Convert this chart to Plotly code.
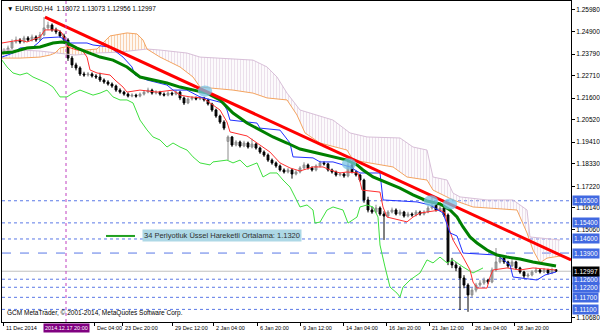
import plotly.graph_objects as go

# ---------------- price data (EURUSD H4) ----------------
opens = [1.2392, 1.2399, 1.2409, 1.2439, 1.2449, 1.2439, 1.2459, 1.2449, 1.2464, 1.2449,
         1.2474, 1.2509, 1.2523, 1.2499, 1.2489, 1.2469, 1.2449, 1.2359, 1.2325, 1.2310,
         1.2280, 1.2275, 1.2280, 1.2270, 1.2265, 1.2250, 1.2240, 1.2230, 1.2220, 1.2200,
         1.2190, 1.2180, 1.2170, 1.2175, 1.2170, 1.2180, 1.2190, 1.2200, 1.2185, 1.2190,
         1.2180, 1.2175, 1.2185, 1.2180, 1.2190, 1.2161, 1.2136, 1.2156, 1.2161, 1.2156,
         1.2161, 1.2151, 1.2131, 1.2101, 1.2071, 1.2041, 1.1945, 1.1967, 1.1927, 1.1942,
         1.1922, 1.1937, 1.1917, 1.1932, 1.1912, 1.1892, 1.1877, 1.1852, 1.1838, 1.1823,
         1.1803, 1.1793, 1.1803, 1.1783, 1.1793, 1.1813, 1.1828, 1.1813, 1.1803, 1.1823,
         1.1838, 1.1833, 1.1803, 1.1793, 1.1778, 1.1783, 1.1773, 1.1828, 1.1793, 1.1778,
         1.1753, 1.1654, 1.1604, 1.1594, 1.1614, 1.1584, 1.1574, 1.1594, 1.1604, 1.1584,
         1.1594, 1.1574, 1.1584, 1.1579, 1.1594, 1.1584, 1.1594, 1.1614, 1.1629, 1.1604,
         1.1614, 1.1579, 1.1346, 1.1331, 1.1316, 1.1266, 1.1231, 1.1182, 1.1206, 1.1231,
         1.1241, 1.1256, 1.1246, 1.1306, 1.1346, 1.1365, 1.1346, 1.1326, 1.1346, 1.1316,
         1.1296, 1.1276, 1.1281, 1.1296, 1.1306, 1.1296, 1.1306, 1.1291, 1.13072]
highs = [1.2408, 1.2421, 1.2452, 1.2466, 1.2458, 1.2470, 1.2468, 1.2476, 1.2472, 1.2489,
         1.2563, 1.2540, 1.2531, 1.2510, 1.2497, 1.2480, 1.2458, 1.2370, 1.2336, 1.2318,
         1.2291, 1.2290, 1.2288, 1.2279, 1.2286, 1.2258, 1.2249, 1.2238, 1.2227, 1.2209,
         1.2197, 1.2188, 1.2184, 1.2182, 1.2188, 1.2199, 1.2212, 1.2207, 1.2199, 1.2196,
         1.2188, 1.2194, 1.2192, 1.2199, 1.2196, 1.2168, 1.2164, 1.2170, 1.2168, 1.2169,
         1.2166, 1.2157, 1.2137, 1.2108, 1.2078, 1.2050, 1.1975, 1.1972, 1.1951, 1.1949,
         1.1948, 1.1944, 1.1958, 1.1939, 1.1919, 1.1900, 1.1885, 1.1860, 1.1845, 1.1830,
         1.1811, 1.1812, 1.1810, 1.1802, 1.1822, 1.1841, 1.1835, 1.1821, 1.1831, 1.1849,
         1.1846, 1.1839, 1.1810, 1.1800, 1.1792, 1.1790, 1.1852, 1.1835, 1.1800, 1.1784,
         1.1760, 1.1670, 1.1620, 1.1630, 1.1622, 1.1598, 1.1603, 1.1616, 1.1612, 1.1606,
         1.1600, 1.1595, 1.1592, 1.1604, 1.1601, 1.1603, 1.1625, 1.1668, 1.1636, 1.1625,
         1.1621, 1.1587, 1.1366, 1.1345, 1.1325, 1.1280, 1.1240, 1.1218, 1.1242, 1.1255,
         1.1268, 1.1262, 1.1318, 1.1415, 1.1380, 1.1372, 1.1352, 1.1360, 1.1352, 1.1322,
         1.1302, 1.1292, 1.1305, 1.1318, 1.1312, 1.1316, 1.1312, 1.1318, 1.13073]
lows = [1.2385, 1.2392, 1.2401, 1.2431, 1.2430, 1.2432, 1.2440, 1.2441, 1.2440, 1.2443,
        1.2468, 1.2498, 1.2490, 1.2478, 1.2460, 1.2438, 1.2345, 1.2310, 1.2298, 1.2270,
        1.2266, 1.2267, 1.2262, 1.2255, 1.2240, 1.2231, 1.2222, 1.2211, 1.2191, 1.2182,
        1.2172, 1.2163, 1.2164, 1.2162, 1.2164, 1.2173, 1.2184, 1.2177, 1.2178, 1.2172,
        1.2168, 1.2169, 1.2171, 1.2174, 1.2150, 1.2126, 1.2130, 1.2148, 1.2149, 1.2150,
        1.2143, 1.2123, 1.2092, 1.2062, 1.2032, 1.2001, 1.1852, 1.1918, 1.1920, 1.1914,
        1.1916, 1.1909, 1.1910, 1.1904, 1.1883, 1.1868, 1.1843, 1.1829, 1.1814, 1.1795,
        1.1785, 1.1786, 1.1760, 1.1776, 1.1786, 1.1806, 1.1805, 1.1795, 1.1796, 1.1816,
        1.1825, 1.1795, 1.1785, 1.1770, 1.1771, 1.1764, 1.1766, 1.1786, 1.1770, 1.1745,
        1.1640, 1.1592, 1.1585, 1.1588, 1.1575, 1.1455, 1.1566, 1.1587, 1.1577, 1.1576,
        1.1566, 1.1567, 1.1570, 1.1572, 1.1576, 1.1577, 1.1588, 1.1606, 1.1596, 1.1597,
        1.1570, 1.1330, 1.1315, 1.1300, 1.1107, 1.1215, 1.1098, 1.1170, 1.1195, 1.1222,
        1.1232, 1.1236, 1.1240, 1.1298, 1.1338, 1.1336, 1.1316, 1.1320, 1.1307, 1.1287,
        1.1266, 1.1268, 1.1274, 1.1290, 1.1288, 1.1290, 1.1283, 1.1285, 1.12956]
closes = [1.2399, 1.2409, 1.2439, 1.2449, 1.2439, 1.2459, 1.2449, 1.2464, 1.2449, 1.2474,
          1.2509, 1.2523, 1.2499, 1.2489, 1.2469, 1.2449, 1.2359, 1.2325, 1.2310, 1.2280,
          1.2275, 1.2280, 1.2270, 1.2265, 1.2250, 1.2240, 1.2230, 1.2220, 1.2200, 1.2190,
          1.2180, 1.2170, 1.2175, 1.2170, 1.2180, 1.2190, 1.2200, 1.2185, 1.2190, 1.2180,
          1.2175, 1.2185, 1.2180, 1.2190, 1.2161, 1.2136, 1.2156, 1.2161, 1.2156, 1.2161,
          1.2151, 1.2131, 1.2101, 1.2071, 1.2041, 1.2011, 1.1967, 1.1927, 1.1942, 1.1922,
          1.1937, 1.1917, 1.1932, 1.1912, 1.1892, 1.1877, 1.1852, 1.1838, 1.1823, 1.1803,
          1.1793, 1.1803, 1.1783, 1.1793, 1.1813, 1.1828, 1.1813, 1.1803, 1.1823, 1.1838,
          1.1833, 1.1803, 1.1793, 1.1778, 1.1783, 1.1773, 1.1828, 1.1793, 1.1778, 1.1753,
          1.1654, 1.1604, 1.1594, 1.1614, 1.1584, 1.1574, 1.1594, 1.1604, 1.1584, 1.1594,
          1.1574, 1.1584, 1.1579, 1.1594, 1.1584, 1.1594, 1.1614, 1.1629, 1.1604, 1.1614,
          1.1579, 1.1346, 1.1331, 1.1316, 1.1266, 1.1231, 1.1182, 1.1206, 1.1231, 1.1241,
          1.1256, 1.1246, 1.1306, 1.1346, 1.1365, 1.1346, 1.1326, 1.1346, 1.1316, 1.1296,
          1.1276, 1.1281, 1.1296, 1.1306, 1.1296, 1.1306, 1.1291, 1.1307, 1.12997]
bars = list(range(len(closes)))

# ---------------- indicators (x = bar position) ----------------
tenkan_x = [-0.5, 4, 5.75, 7.25, 9, 10.25, 13.5, 14.5, 15.25, 16, 18.25, 19.5, 20.75, 21.5, 23.25,
            26.5, 27.75, 29.75, 30.75, 34, 38.25, 42.25, 44, 46.5, 49.75, 52.25, 54, 55.75, 56.5,
            60.75, 64, 66.5, 69, 71.5, 74, 77.25, 79.75, 81.5, 84, 85.75, 88.5, 89.5, 94, 94.75,
            95.75, 100.75, 102.25, 104, 109, 110.25, 110.75, 112.25, 114.75, 116.5, 117.25, 118.25,
            120.75, 121.5, 122.25, 125.75, 129, 132.25, 138]
tenkan_y = [1.2434, 1.2449, 1.2439, 1.2449, 1.2464, 1.2499, 1.2499, 1.2484, 1.2449, 1.2414, 1.2399,
            1.2399, 1.2364, 1.2300, 1.2285, 1.2275, 1.2250, 1.2215, 1.2190, 1.2200, 1.2190, 1.2200,
            1.2175, 1.2166, 1.2161, 1.2126, 1.2101, 1.2041, 1.1992, 1.1972, 1.1927, 1.1892, 1.1838,
            1.1813, 1.1798, 1.1818, 1.1818, 1.1803, 1.1788, 1.1793, 1.1788, 1.1703, 1.1693, 1.1619,
            1.1569, 1.1545, 1.1569, 1.1589, 1.1604, 1.1589, 1.1539, 1.1455, 1.1370, 1.1306, 1.1246,
            1.1216, 1.1216, 1.1271, 1.1306, 1.1316, 1.1306, 1.1316, 1.1306]

kijun_x = [-0.5, 2.25, 4, 7.25, 8.5, 9.75, 14, 15.25, 16.5, 20.75, 22.25, 26.5, 29.75, 32, 32.75,
           35.75, 40.75, 42.25, 45.75, 49, 52.25, 54.75, 55.75, 56.5, 63.25, 64, 69, 71.5, 72.25,
           77.25, 79, 82.25, 86.5, 89, 94, 94.75, 103.25, 106.5, 109.75, 110.75, 111.5, 113.25,
           114.75, 123.25, 126.5, 127.25, 133.25, 135.25, 138]
kijun_y = [1.2364, 1.2384, 1.2409, 1.2414, 1.2434, 1.2459, 1.2464, 1.2449, 1.2434, 1.2434, 1.2424,
           1.2414, 1.2364, 1.2315, 1.2275, 1.2250, 1.2225, 1.2200, 1.2200, 1.2166, 1.2151, 1.2136,
           1.2101, 1.2051, 1.2036, 1.2011, 1.2001, 1.1937, 1.1868, 1.1863, 1.1843, 1.1843, 1.1818,
           1.1788, 1.1788, 1.1654, 1.1644, 1.1629, 1.1589, 1.1530, 1.1490, 1.1475, 1.1390, 1.1380,
           1.1331, 1.1271, 1.1256, 1.1281, 1.1296]

chikou_x = [-0.5, 0.75, 2.25, 4, 5.75, 7.25, 9, 10.75, 12.25, 14, 15.75, 17.25, 19, 20.75, 22.25,
            24, 25.75, 27.25, 29, 30.75, 32.25, 34, 35.75, 37.25, 39, 40.75, 42.25, 44, 45.75, 47.25,
            49, 51.5, 52.25, 55.75, 57.25, 59, 60.75, 63.25, 64.75, 66.5, 68.25, 69.75, 71.5, 72.75,
            74, 75.75, 77.25, 77.75, 79, 80.75, 82.25, 84.75, 86, 88.25, 89, 90.75, 92.25, 93.5, 94,
            95.25, 96.5, 98.25, 99, 99.75, 101.5, 104, 105.75, 107.25, 109, 110.75, 112.25, 114.75,
            117.25, 119.75]
chikou_y = [1.2349, 1.2315, 1.2285, 1.2275, 1.2285, 1.2265, 1.2250, 1.2235, 1.2215, 1.2166, 1.2166,
            1.2185, 1.2200, 1.2185, 1.2175, 1.2185, 1.2200, 1.2166, 1.2151, 1.2151, 1.2136, 1.2051,
            1.2002, 1.1967, 1.1952, 1.1917, 1.1937, 1.1917, 1.1902, 1.1868, 1.1838, 1.1828, 1.1843,
            1.1852, 1.1838, 1.1852, 1.1818, 1.1838, 1.1768, 1.1788, 1.1788, 1.1753, 1.1718, 1.1669,
            1.1619, 1.1629, 1.1604, 1.1539, 1.1544, 1.1604, 1.1619, 1.1604, 1.1539, 1.1569, 1.1619,
            1.1629, 1.1619, 1.1569, 1.1430, 1.1321, 1.1221, 1.1191, 1.1172, 1.1221, 1.1256, 1.1291,
            1.1356, 1.1341, 1.1370, 1.1341, 1.1356, 1.1321, 1.1291, 1.1316]

ema_x = [-0.5, 2.25, 5.75, 9, 12.25, 14.5, 15.75, 18.25, 20.75, 24, 27.25, 30.75, 34, 37.25, 40.75,
         44, 47.25, 50.75, 54, 57.25, 60.75, 64, 67.25, 70.75, 74, 78.25, 82.25, 85.75, 88.25, 89.75,
         92.25, 95.75, 99, 102.25, 105.75, 109, 111.5, 113.25, 114.75, 116.5, 118.25, 120.75, 123.25,
         125.75, 129, 132.25, 138]
ema_y = [1.2384, 1.2389, 1.2409, 1.2414, 1.2434, 1.2439, 1.2434, 1.2409, 1.2389, 1.2364, 1.2349,
         1.2315, 1.2265, 1.2250, 1.2235, 1.2215, 1.2200, 1.2185, 1.2151, 1.2086, 1.2036, 1.2001,
         1.1967, 1.1937, 1.1907, 1.1887, 1.1868, 1.1852, 1.1828, 1.1803, 1.1768, 1.1738, 1.1713,
         1.1679, 1.1649, 1.1634, 1.1604, 1.1569, 1.1520, 1.1470, 1.1440, 1.1405, 1.1380, 1.1370,
         1.1360, 1.1346, 1.1326]

senkou_a_x = [-0.5, 4, 9, 11.5, 12.75, 14, 16.5, 18.25, 20.25, 23.25, 24.75, 26.5, 30.75, 33.25,
              34.75, 35.75, 39, 44, 47.25, 49, 57.25, 62.25, 65.75, 70.75, 73.25, 75.25, 79, 85.75,
              87.25, 97.25, 100.75, 105.75, 107.25, 110.75, 112.25, 117.25, 128.25, 130.75, 132.25,
              134, 135.75, 139]
senkou_a_y = [1.2359, 1.2359, 1.2364, 1.2374, 1.2384, 1.2409, 1.2419, 1.2409, 1.2399, 1.2404, 1.2434,
              1.2469, 1.2484, 1.2479, 1.2449, 1.2404, 1.2364, 1.2315, 1.2265, 1.2215, 1.2200, 1.2185,
              1.2161, 1.2151, 1.2076, 1.1987, 1.1937, 1.1902, 1.1852, 1.1818, 1.1768, 1.1753, 1.1703,
              1.1669, 1.1654, 1.1619, 1.1604, 1.1490, 1.1405, 1.1341, 1.1365, 1.1375]
senkou_b_x = [-0.5, 4, 9, 12.75, 17.75, 23.25, 29, 35.75, 39, 45.75, 49, 62.25, 65.75, 68.25, 70.75,
              74, 82.25, 86.5, 90.75, 99, 100.75, 102.25, 105.75, 107.25, 110.75, 112.25, 114, 120.75,
              127.25, 130.75, 131.5, 139]
senkou_b_y = [1.2399, 1.2399, 1.2394, 1.2384, 1.2374, 1.2384, 1.2389, 1.2404, 1.2399, 1.2384, 1.2364,
              1.2349, 1.2315, 1.2265, 1.2185, 1.2101, 1.2051, 1.1987, 1.1967, 1.1962, 1.1937, 1.1917,
              1.1902, 1.1768, 1.1753, 1.1688, 1.1669, 1.1654, 1.1654, 1.1604, 1.1470, 1.1455]
# cloud colour changes where span A crosses span B
cloud_breaks = [-0.5, 12.75, 35.75, 139]
cloud_colors = ["#D8BFD8", "#F4A460", "#D8BFD8"]

trend_x = [10.25, 141.75]
trend_y = [1.2563, 1.13555]

ema_label = "34 Periyotluk Üssel Hareketli Ortalama: 1.1320"
ema_label_price = 1.1475
dotted_levels = [1.16500, 1.15400, 1.14600, 1.12600, 1.12200, 1.11700, 1.11100]
dashed_levels = [1.13900]
bid_price = 1.12997
marked_bar = 15.5
marked_label = "2014.12.17 20:00"
touch_x = [50.25, 86.25, 106.75, 111.5]
touch_y = [1.2195, 1.1833, 1.1649, 1.1634]

price_ticks = [1.25980, 1.24900, 1.23790, 1.22710, 1.21600, 1.20520, 1.19410, 1.18330,
               1.17220, 1.16140, 1.15060, 1.10680]
time_pos = [-0.25, 22.5, 29.5, 42, 52.25, 63.25, 74, 84.75, 95.5, 106.25, 117, 127.5]
time_labels = ["11 Dec 2014", "Dec 04:00", "23 Dec 20:00", "29 Dec 12:00", "2 Jan 04:00",
               "6 Jan 20:00", "9 Jan 12:00", "14 Jan 04:00", "16 Jan 20:00", "21 Jan 12:00",
               "26 Jan 04:00", "28 Jan 20:00"]

FONT = "Liberation Sans"
TFS = 5.5
fig = go.Figure()

# cloud hatch
for k, col in enumerate(cloud_colors):
    lo, hi = cloud_breaks[k], cloud_breaks[k + 1]
    bx = [x for x in senkou_b_x if lo <= x <= hi]
    by = [y for x, y in zip(senkou_b_x, senkou_b_y) if lo <= x <= hi]
    ax = [x for x in senkou_a_x if lo <= x <= hi]
    ay = [y for x, y in zip(senkou_a_x, senkou_a_y) if lo <= x <= hi]
    fig.add_trace(go.Scatter(x=bx, y=by, mode="lines", line=dict(width=0, color=col),
                             hoverinfo="skip", showlegend=False))
    fig.add_trace(go.Scatter(x=ax, y=ay, mode="lines", line=dict(width=0, color=col),
                             fill="tonexty", fillcolor="rgba(0,0,0,0)",
                             fillpattern=dict(shape="|", fgcolor=col, bgcolor="rgba(0,0,0,0)",
                                              size=3, solidity=0.45),
                             hoverinfo="skip", showlegend=False))

fig.add_trace(go.Scatter(x=senkou_b_x, y=senkou_b_y, mode="lines",
                         line=dict(color="#D8BFD8", width=1), showlegend=False))
fig.add_trace(go.Scatter(x=senkou_a_x, y=senkou_a_y, mode="lines",
                         line=dict(color="#F4A460", width=1), showlegend=False))

fig.add_trace(go.Candlestick(
    x=bars, open=opens, high=highs, low=lows, close=closes,
    increasing=dict(line=dict(color="#8C8C8C", width=1), fillcolor="#A8A8A8"),
    decreasing=dict(line=dict(color="#000000", width=1), fillcolor="#000000"),
    whiskerwidth=0, showlegend=False))

fig.add_trace(go.Scatter(x=chikou_x, y=chikou_y, mode="lines",
                         line=dict(color="#3EE03E", width=1), showlegend=False))
fig.add_trace(go.Scatter(x=tenkan_x, y=tenkan_y, mode="lines",
                         line=dict(color="#FF3030", width=1), showlegend=False))
fig.add_trace(go.Scatter(x=kijun_x, y=kijun_y, mode="lines",
                         line=dict(color="#2030FF", width=1), showlegend=False))
fig.add_trace(go.Scatter(x=ema_x, y=ema_y, mode="lines",
                         line=dict(color="#008000", width=3), showlegend=False))
fig.add_trace(go.Scatter(x=trend_x, y=trend_y, mode="lines",
                         line=dict(color="#FF0000", width=3), showlegend=False))

shapes = []
for lv in dotted_levels:
    shapes.append(dict(type="line", xref="paper", x0=0, x1=1, yref="y", y0=lv, y1=lv,
                       line=dict(color="#5A78E6", width=1, dash="dot"), layer="below"))
for lv in dashed_levels:
    shapes.append(dict(type="line", xref="paper", x0=0, x1=1, yref="y", y0=lv, y1=lv,
                       line=dict(color="#5A78E6", width=1, dash="dash"), layer="below"))
shapes.append(dict(type="line", xref="paper", x0=0, x1=1, yref="y", y0=bid_price, y1=bid_price,
                   line=dict(color="#C0C0C0", width=1), layer="below"))
shapes.append(dict(type="line", xref="x", x0=marked_bar, x1=marked_bar, yref="paper", y0=0, y1=1,
                   line=dict(color="#C040C0", width=1, dash="dot"), layer="above"))
for tx, ty in zip(touch_x, touch_y):
    shapes.append(dict(type="circle", xref="x", yref="y", x0=tx - 1.8, x1=tx + 1.8,
                       y0=ty - 0.0028, y1=ty + 0.0028, fillcolor="rgba(120,195,230,0.75)",
                       line=dict(width=0), layer="above"))
shapes.append(dict(type="line", xref="x", yref="y", x0=25.5, x1=32.75,
                   y0=ema_label_price, y1=ema_label_price,
                   line=dict(color="#20A020", width=2)))

ann = []
ann.append(dict(xref="paper", yref="paper", x=0, y=1, xanchor="left", yanchor="top",
                xshift=3, yshift=-2, showarrow=False,
                text="▼ EURUSD,H4  1.13072 1.13073 1.12956 1.12997",
                font=dict(family=FONT, size=6.5, color="#000000")))
ann.append(dict(xref="paper", yref="paper", x=0, y=0, xanchor="left", yanchor="bottom",
                xshift=3, yshift=3, showarrow=False,
                text="GCM MetaTrader, © 2001-2014, MetaQuotes Software Corp.",
                font=dict(family=FONT, size=6.5, color="#000000")))
ann.append(dict(xref="x", yref="y", x=34.5, y=ema_label_price, xanchor="left", yanchor="middle",
                showarrow=False, text=ema_label, bgcolor="#ADD8E6", borderpad=1,
                font=dict(family=FONT, size=7.5, color="#303030")))
for tp, tl in zip(time_pos, time_labels):
    ann.append(dict(xref="x", yref="paper", x=tp, y=0, xanchor="left", yanchor="top",
                    xshift=1, yshift=-1, showarrow=False, text=tl,
                    font=dict(family=FONT, size=TFS, color="#000000")))
ann.append(dict(xref="x", yref="paper", x=marked_bar, y=0, xanchor="center", yanchor="top",
                yshift=-1, showarrow=False, text=marked_label, bgcolor="#800080", borderpad=1,
                font=dict(family=FONT, size=TFS, color="#FFFFFF")))
for lv in sorted(dotted_levels + dashed_levels):
    ann.append(dict(xref="paper", yref="y", x=1, y=lv, xanchor="left", yanchor="middle",
                    xshift=1, showarrow=False, text=f"{lv:.5f}", bgcolor="#4169E1", borderpad=1,
                    font=dict(family=FONT, size=6.5, color="#FFFFFF")))
ann.append(dict(xref="paper", yref="y", x=1, y=bid_price, xanchor="left", yanchor="middle",
                xshift=1, showarrow=False, text=f"{bid_price:.5f}", bgcolor="#000000", borderpad=1,
                font=dict(family=FONT, size=6.5, color="#FFFFFF")))

fig.update_layout(
    width=600, height=333,
    margin=dict(l=2, r=29, t=1, b=11),
    paper_bgcolor="#FFFFFF", plot_bgcolor="#FFFFFF",
    font=dict(family=FONT, size=6.5, color="#000000"),
    showlegend=False, shapes=shapes, annotations=ann, boxgap=0.35,
    xaxis=dict(range=[-0.5, 141.75], showgrid=False, zeroline=False, rangeslider=dict(visible=False),
               showline=True, linecolor="#000000", linewidth=1, mirror=True,
               tickvals=time_pos, ticks="outside", ticklen=3, tickcolor="#000000",
               showticklabels=False),
    yaxis=dict(range=[1.10474, 1.26427], side="right", showgrid=False, zeroline=False,
               showline=True, linecolor="#000000", linewidth=1, mirror=True,
               tickvals=price_ticks, ticktext=[f"{v:.5f}" for v in price_ticks],
               ticks="outside", ticklen=3, tickcolor="#000000",
               tickfont=dict(family=FONT, size=6.5, color="#000000")),
)

fig.write_html("out.html")
